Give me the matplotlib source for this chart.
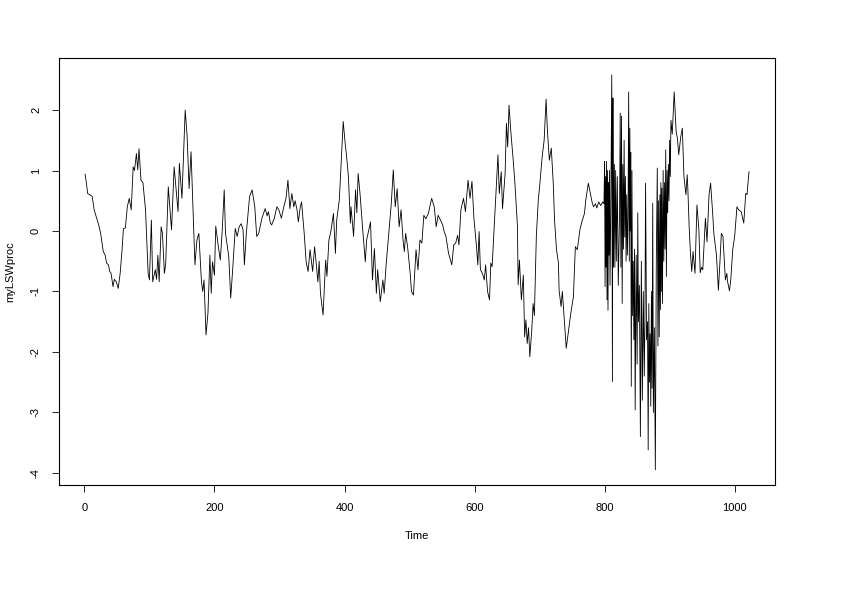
import matplotlib
matplotlib.use('Agg')
import matplotlib.pyplot as plt

# values (time, myLSWproc)
time = [1, 3, 5, 8, 12, 15, 19, 22, 25, 29, 32, 34, 37, 39, 41, 44, 46, 49, 52, 55, 58, 60, 63, 66, 69, 72, 75, 77, 80, 82, 84, 87, 90, 94, 98, 100, 103, 105, 109, 111, 113, 115, 118, 120, 123, 125,
        129, 134, 138, 141, 144, 146, 150, 155, 158, 161, 164, 167, 170, 173, 176, 180, 182, 184, 187, 190, 193, 195, 197, 200, 202, 206, 209, 212, 215, 217, 222, 225, 228, 232, 235, 238, 241, 244, 246, 249, 254, 258, 262,
        265, 268, 273, 278, 281, 283, 286, 288, 292, 296, 299, 303, 306, 310, 313, 316, 319, 322, 324, 327, 329, 332, 334, 338, 341, 344, 347, 351, 354, 356, 359, 361, 363, 367, 371, 373, 376, 379, 383, 386, 388, 392,
        395, 398, 401, 403, 406, 409, 410, 414, 417, 419, 421, 424, 428, 432, 434, 437, 440, 443, 446, 449, 451, 455, 459, 461, 464, 468, 472, 475, 478, 481, 484, 487, 490, 492, 494, 497, 501, 503, 506, 510, 513, 516, 519,
        522, 525, 529, 534, 538, 541, 544, 548, 551, 553, 556, 560, 565, 568, 571, 574, 576, 579, 583, 586, 590, 593, 596, 599, 603, 605, 607, 609, 612, 615, 617, 620, 623, 625, 627, 631, 636, 638, 641, 643, 647, 649,
        651, 653, 656, 659, 662, 666, 667, 669, 672, 675, 677, 679, 681, 683, 685, 688, 690, 692, 695, 698, 700, 704, 707, 710, 712, 715, 718, 721, 723, 726, 729, 730, 733, 735, 738, 741, 744, 748, 752, 755, 758, 762,
        765, 769, 771, 775, 777, 781, 783, 786, 788, 791, 794, 797, 799,
        800, 800.7, 801.5, 802.2, 803, 803.7, 804.5, 805.2, 806, 806.7, 807.5, 808.3, 809.5, 811, 812, 812.8, 813.6, 815, 815.8, 817, 818, 819.5, 821, 823, 824, 825, 826, 827, 828, 829, 830, 831, 832, 833, 834, 835,
        836, 837, 838, 838.8, 839.5, 840.2, 841, 842, 843, 844, 845, 846, 847, 848.5, 850, 851, 852, 853.5, 855, 856.5, 858, 859.5, 861, 862, 863, 864.5, 866, 867, 868, 869, 870, 871, 872, 873, 874, 875, 876.5, 878,
        879.5, 881, 882, 883, 884, 885, 885.8, 886.5, 887.2, 888, 889, 890, 891, 892, 893, 894, 895, 896, 897, 898, 899, 900, 901, 902, 904, 907,
        910, 912, 914, 917, 919.5, 922, 925, 927, 928, 930, 932, 934, 936, 939, 942, 945, 947, 949, 951, 955, 957.5, 960.6, 963, 966, 968, 972, 975, 977.5, 979.5, 982, 985.7, 988, 989, 992, 994, 997, 1000, 1003.5,
        1006, 1010, 1014, 1017, 1019, 1022]

value = [0.94, 0.80, 0.62, 0.60, 0.57, 0.35, 0.21, 0.10, -0.04, -0.34, -0.40, -0.53, -0.56, -0.67, -0.70, -0.92, -0.80, -0.84, -0.95, -0.70, -0.30, 0.04, 0.05, 0.40, 0.54, 0.35, 1.06, 1.00, 1.28, 1.01, 1.36, 0.84, 0.80, 0.35, -0.70, -0.81, 0.18, -0.84, -0.64, -0.80, -0.40, -0.84, 0.07, -0.04, -0.70, -0.55,
         0.73, 0.02, 1.06, 0.68, 0.32, 1.12, 0.54, 2.0, 1.56, 0.70, 1.31, 0.35, -0.56, -0.15, -0.04, -0.84, -1.0, -0.81, -1.72, -1.36, -0.40, -1.03, -0.51, -0.73, 0.08, -0.26, -0.48, 0.02, 0.68, -0.04, -0.42, -1.11, -0.64, 0.04, -0.09, 0.07, 0.12, 0.02, -0.56, -0.04, 0.57, 0.68, 0.40,
         -0.09, -0.04, 0.21, 0.37, 0.25, 0.32, 0.13, 0.10, 0.21, 0.40, 0.35, 0.21, 0.37, 0.54, 0.84, 0.37, 0.62, 0.40, 0.50, 0.35, 0.15, 0.40, 0.48, -0.04, -0.51, -0.67, -0.31, -0.67, -0.26, -0.48, -0.84, -0.50, -1.03, -1.39, -0.48, -0.75, -0.15, -0.01, 0.29, -0.37, 0.18, 0.51,
         1.15, 1.81, 1.45, 1.26, 0.90, 0.13, 0.40, -0.09, 0.68, 0.30, 0.95, 0.60, 0.02, -0.51, -0.15, 0.0, 0.15, -0.81, -0.29, -1.03, -0.64, -1.17, -0.81, -1.03, -0.56, -0.04, 0.46, 1.01, 0.40, 0.70, 0.07, 0.35, -0.15, -0.34, -0.04, -0.26, -0.70, -1.00, -1.06, -0.31, -0.64, -0.15, -0.20,
         0.26, 0.20, 0.29, 0.54, 0.40, 0.07, 0.26, 0.17, 0.10, 0.0, -0.09, -0.37, -0.56, -0.23, -0.20, -0.07, -0.23, 0.35, 0.54, 0.32, 0.84, 0.54, 0.82, 0.21, -0.26, -0.56, -0.01, -0.64, -0.70, -0.81, -0.56, -1.00, -1.14, -0.53, -0.59, 0.24, 1.26, 0.62, 0.98, 0.37, 0.95, 1.78,
         1.39, 2.08, 1.61, 1.23, 0.80, 0.07, -0.89, -0.48, -1.14, -0.73, -1.75, -1.47, -1.86, -1.6, -2.08, -1.64, -1.20, -1.4, -0.09, 0.51, 0.73, 1.23, 1.50, 2.18, 1.67, 1.17, 1.37, 0.79, 0.18, -0.31, -0.53, -0.98, -1.25, -1.00, -1.47, -1.94, -1.69, -1.36, -1.09, -0.26, -0.31, 0.02,
         0.15, 0.29, 0.51, 0.79, 0.68, 0.46, 0.40, 0.45, 0.38, 0.48, 0.42, 0.48, 0.45,
         1.15, -0.92, 0.9, -0.6, 1.15, -1.14, 1.0, -1.31, 0.8, -0.4, 1.0, -0.9, 0.4, 2.58, -2.49, 2.2, -0.6, 1.1, -0.6, 1.0, -0.5, 0.9, -0.9, 0.3, 1.95, -0.6, 1.9, -1.2, 1.1, -0.3, 1.5, -0.1, 0.9, -0.5, 0.6, -0.4,
         0.2, 2.30, -0.5, 1.7, 0.0, 1.3, -2.57, 1.0, -1.4, -0.5, -1.8, -0.3, -2.96, -0.4, -2.2, 0.3, -1.5, -0.9, -3.4, -0.5, -2.8, -1.0, -2.4, -1.5, 0.79, -1.8, -1.5, -3.62, -1.2, -2.5, -1.7, -2.9, -1.0, -2.6, 0.46, -3.0, -1.6, -3.95,
         -0.5, 1.04, -1.9, 0.5, -1.75, 0.6, -1.3, 0.8, -1.0, 0.71, -1.2, 1.0, -0.5, 0.8, -0.3, 1.34, -0.75, 1.0, 0.3, 1.1, 0.5, 1.5, 0.9, 1.83, 1.6, 2.30,
         1.64, 1.53, 1.26, 1.55, 1.70, 0.90, 0.60, 0.93, 0.7, 0.07, -0.37, -0.67, -0.34, -0.70, 0.43, 0.02, -0.69, -0.60, -0.64, 0.21, -0.18, 0.60, 0.79, 0.32, -0.04, -0.40, -0.98, -0.48, -0.04, -0.09, -0.81, -0.70, -0.83, -0.99, -0.81, -0.31, -0.09, 0.40,
         0.35, 0.32, 0.13, 0.62, 0.60, 0.98]

xticks = [0, 200, 400, 600, 800, 1000]
yticks = [-4, -3, -2, -1, 0, 1, 2]

plt.rcParams['font.family'] = ['Liberation Sans', 'DejaVu Sans']
plt.rcParams['font.size'] = 8

fig = plt.figure(figsize=(8.41, 5.95), dpi=100)
ax = fig.add_axes([0.0702, 0.1849, 0.8513, 0.7176])

ax.plot(time, value, color='black', lw=0.6)

ax.set_xlim(-39, 1062)
ax.set_ylim(-4.2, 2.86)
ax.set_xticks(xticks)
ax.set_yticks(yticks)
ax.set_yticklabels([str(v) for v in yticks], rotation=90, va='center')
ax.tick_params(direction='out', length=5, width=0.6, pad=8, labelsize=8)
for s in ax.spines.values():
    s.set_linewidth(0.8)

ax.set_xlabel('Time', fontsize=8, labelpad=13)
ax.set_ylabel('myLSWproc', fontsize=8, labelpad=11)

fig.savefig('out.png', dpi=100)
